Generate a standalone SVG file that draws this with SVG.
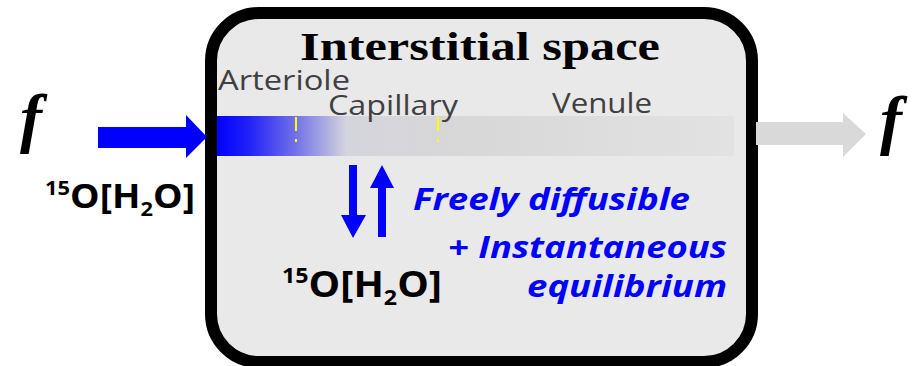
<svg xmlns="http://www.w3.org/2000/svg" width="918" height="366" viewBox="0 0 918 366">
<defs>
<linearGradient id="tube" x1="0" y1="0" x2="1" y2="0">
<stop offset="0" stop-color="#0000ff"/>
<stop offset="0.06" stop-color="#2020f8"/>
<stop offset="0.15" stop-color="#7070e8"/>
<stop offset="0.25" stop-color="#d4d4dc"/>
<stop offset="0.5" stop-color="#d8d8d8"/>
<stop offset="1" stop-color="#e2e2e2"/>
</linearGradient>
<style>
.lbl{font-family:"Open Sans","Noto Sans",sans-serif;fill:#404040;font-size:27px}
.blk{font-family:"Open Sans","Noto Sans",sans-serif;font-weight:bold;fill:#000}
.blue{font-family:"Open Sans","Noto Sans",sans-serif;font-weight:bold;font-style:italic;fill:#0000ff;font-size:30px}
.f{font-family:"Liberation Serif",serif;font-weight:bold;font-style:italic;font-size:66px;fill:#000}
</style>
</defs>
<g id="box">
<rect x="211" y="13" width="541" height="349" rx="48" fill="#e9e9e9" stroke="#000" stroke-width="12"/>
<text x="480" y="60" text-anchor="middle" font-family="Liberation Serif,serif" font-weight="bold" font-size="40" textLength="360" lengthAdjust="spacingAndGlyphs">Interstitial space</text>
</g>
<g id="vessel">
<rect x="217" y="116" width="517" height="40" fill="url(#tube)"/>
<line x1="296" y1="117" x2="296" y2="155" stroke="#ffff00" stroke-width="2" stroke-dasharray="14,8,3,20"/>
<line x1="438" y1="117" x2="438" y2="155" stroke="#ffff00" stroke-width="2" stroke-dasharray="14,8,3,20"/>
<text class="lbl" x="218" y="90" textLength="132" lengthAdjust="spacingAndGlyphs">Arteriole</text>
<text class="lbl" x="328" y="115" textLength="130" lengthAdjust="spacingAndGlyphs">Capillary</text>
<text class="lbl" x="552" y="113" textLength="100" lengthAdjust="spacingAndGlyphs">Venule</text>
</g>
<g id="connectors">
<polygon points="98,127 186,127 186,115 207,137 186,158 186,148 98,148" fill="#0000ff"/>
<polygon points="756,122 843,122 843,113 866,134 843,157 843,145 756,145" fill="#d9d9d9"/>
<polygon points="349,165 357,165 357,215 366,215 353,238 341,215 349,215" fill="#0000ff"/>
<polygon points="378,237 386,237 386,188 394,188 382,165 370,188 378,188" fill="#0000ff"/>
</g>
<g id="inflow">
<text class="f" x="20" y="140">f</text>
<text class="blk" x="45" y="208" font-size="34" textLength="150" lengthAdjust="spacingAndGlyphs"><tspan font-size="20" dy="-13">15</tspan><tspan dy="13">O[H</tspan><tspan font-size="20" dy="8">2</tspan><tspan dy="-8">O]</tspan></text>
</g>
<g id="outflow">
<text class="f" x="880" y="142">f</text>
</g>
<g id="tissue">
<text class="blk" x="282" y="297" font-size="36" textLength="160" lengthAdjust="spacingAndGlyphs"><tspan font-size="21" dy="-14">15</tspan><tspan dy="14">O[H</tspan><tspan font-size="21" dy="8">2</tspan><tspan dy="-8">O]</tspan></text>
<text class="blue" x="413" y="210" textLength="277" lengthAdjust="spacingAndGlyphs">Freely diffusible</text>
<text class="blue" x="727" y="258" font-size="28" text-anchor="end" textLength="279" lengthAdjust="spacingAndGlyphs">+ Instantaneous</text>
<text class="blue" x="727" y="297" font-size="28" text-anchor="end" textLength="200" lengthAdjust="spacingAndGlyphs">equilibrium</text>
</g>
</svg>
